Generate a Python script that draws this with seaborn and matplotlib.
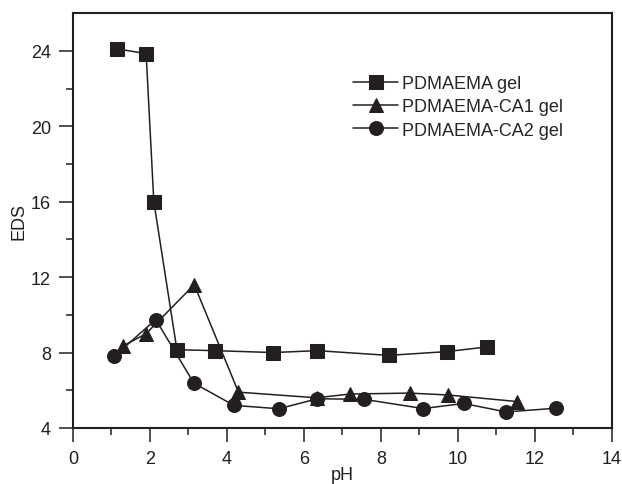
import matplotlib.pyplot as plt
import pandas as pd
import seaborn as sns

# values
ph_0 = [1.15, 1.9, 2.1, 2.7, 3.7, 5.2, 6.35, 8.2, 9.72, 10.77]
eds_0 = [24.1, 23.85, 16.0, 8.15, 8.1, 8.0, 8.1, 7.85, 8.05, 8.3]

ph_1 = [1.3, 1.9, 3.15, 4.3, 6.33, 7.2, 8.75, 9.74, 11.55]
eds_1 = [8.35, 9.0, 11.6, 5.9, 5.6, 5.8, 5.85, 5.75, 5.4]

ph_2 = [1.07, 2.15, 3.14, 4.18, 5.35, 6.35, 7.56, 9.1, 10.15, 11.26, 12.56]
eds_2 = [7.8, 9.75, 6.38, 5.2, 5.02, 5.55, 5.52, 5.03, 5.3, 4.85, 5.05]

names = ["PDMAEMA gel", "PDMAEMA-CA1 gel", "PDMAEMA-CA2 gel"]

df = pd.concat([
    pd.DataFrame({"pH": ph_0, "EDS": eds_0, "gel": names[0]}),
    pd.DataFrame({"pH": ph_1, "EDS": eds_1, "gel": names[1]}),
    pd.DataFrame({"pH": ph_2, "EDS": eds_2, "gel": names[2]}),
])

sns.set_style("ticks")
plt.rcParams["font.family"] = ["Liberation Sans", "DejaVu Sans"]

ink = "#231f20"
fig = plt.figure(figsize=(6.22, 4.85), dpi=100)
ax = fig.add_axes([0.1174, 0.1155, 0.866, 0.8555])

sns.lineplot(
    data=df, x="pH", y="EDS", hue="gel", style="gel",
    palette=[ink] * 3, markers={names[0]: "s", names[1]: "^", names[2]: "o"},
    dashes=False, sort=False, markersize=10, linewidth=1.1,
    markeredgecolor=ink, ax=ax,
)

ax.set_xlim(0, 14)
ax.set_ylim(4, 26)
ax.set_xticks(range(0, 15, 2))
ax.set_xticks(range(1, 14, 2), minor=True)
ax.set_yticks(range(4, 25, 4))
ax.set_yticks(range(6, 26, 4), minor=True)
for s in ax.spines.values():
    s.set_visible(True)
    s.set_color(ink)
    s.set_linewidth(1.5)
ax.tick_params(which="major", length=10, width=1.1, color=ink, labelsize=13,
               labelcolor=ink, direction="out", pad=6)
ax.tick_params(which="minor", length=5, width=1.1, color=ink, direction="out")
ax.set_xlabel("pH", fontsize=13, color=ink, labelpad=-1)
ax.set_ylabel("EDS", fontsize=13, color=ink, labelpad=2)

leg = ax.legend(loc="upper left", bbox_to_anchor=(0.49, 0.89), frameon=False,
                fontsize=13, handlelength=2.5, labelspacing=0.35,
                handletextpad=0.2)

fig.savefig("out.png", dpi=100)
